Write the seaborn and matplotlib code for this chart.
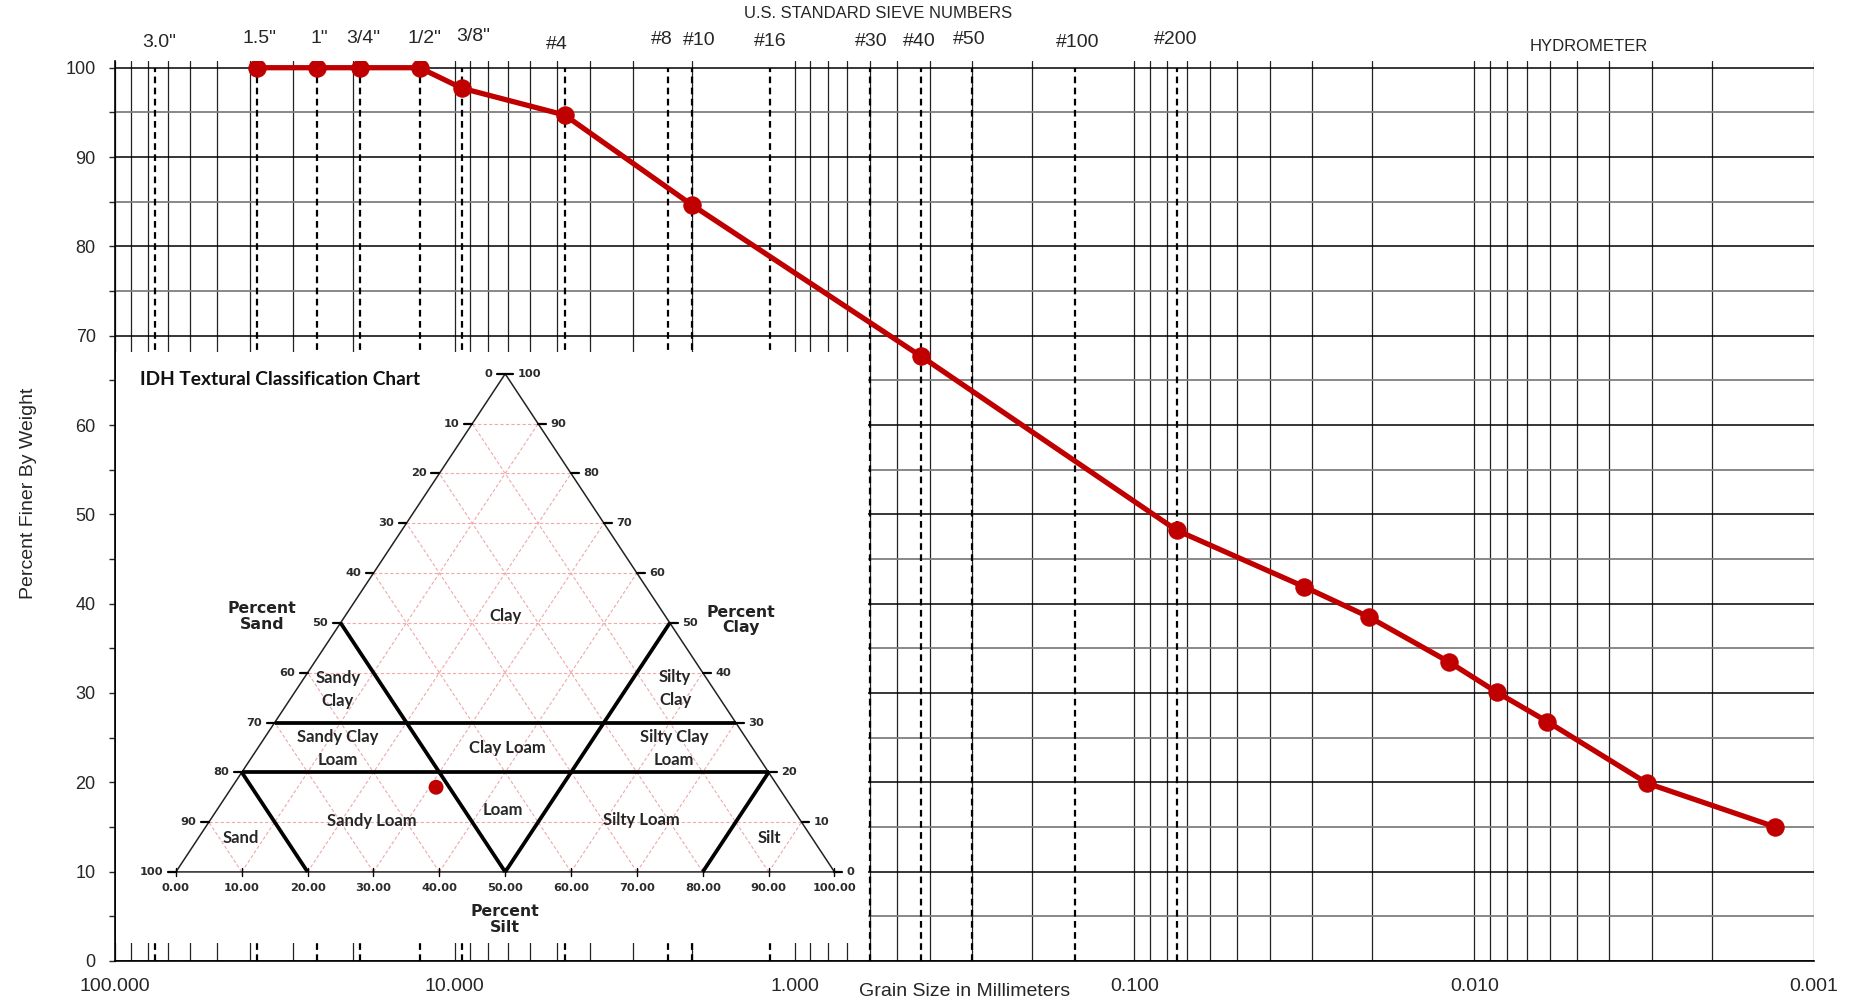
import numpy as np
import pandas as pd
import matplotlib
matplotlib.use("Agg")
import matplotlib.pyplot as plt
import seaborn as sns
from matplotlib.ticker import LogLocator, MultipleLocator, NullFormatter

# grain size distribution (sieve + hydrometer)
grain_mm = [38.1, 25.4, 19.05, 12.7, 9.525, 4.75, 2.0, 0.425, 0.075,
            0.0317, 0.0204, 0.0119, 0.0086, 0.0061, 0.0031, 0.0013]
pct_finer = [100, 100, 100, 100, 97.7, 94.7, 84.6, 67.7, 48.2,
             41.9, 38.5, 33.5, 30.1, 26.8, 19.9, 15.0]

# sieve openings
sieve_names = ['3.0"', '1.5"', '1"', '3/4"', '1/2"', '3/8"', '#4', '#8', '#10',
               '#16', '#30', '#40', '#50', '#100', '#200']
sieve_mm = [76.2, 38.1, 25.4, 19.05, 12.7, 9.525, 4.75, 2.36, 2.0,
            1.18, 0.6, 0.425, 0.3, 0.15, 0.075]
# where the sieve names sit (x in mm, y in percent)
sieve_label_x = [74.4, 37.65, 25.0, 18.6, 12.25, 8.82, 4.995, 2.466, 1.909,
                 1.18, 0.597, 0.43, 0.307, 0.1467, 0.0755]
sieve_label_y = [102.8, 103.3, 103.3, 103.3, 103.3, 103.5, 102.6, 103.2, 103.0,
                 102.9, 102.9, 102.9, 103.2, 102.8, 103.2]

xtick_vals = [100, 10, 1, 0.1, 0.01, 0.001]
xtick_labels = ["100.000", "10.000", "1.000", "0.100", "0.010", "0.001"]

# ternary textural chart
tern_ticks = list(range(0, 101, 10))
sample_sand, sample_silt, sample_clay = 52, 31, 17
# class boundaries as (silt, clay) end points
boundaries = [((0, 30), (70, 30)), ((0, 20), (80, 20)),
              ((0, 50), (50, 0)), ((50, 50), (50, 0)),
              ((0, 20), (20, 0)), ((80, 20), (80, 0))]
class_names = ["Clay", "Sandy\nClay", "Silty\nClay", "Sandy Clay\nLoam", "Clay Loam",
               "Silty Clay\nLoam", "Sandy Loam", "Loam", "Silty Loam", "Sand", "Silt"]
class_pos = [(50.1, 51.3), (24.6, 36.6), (75.8, 36.8), (24.6, 24.7), (50.3, 24.9),
             (75.6, 24.7), (29.8, 10.2), (49.7, 12.4), (70.7, 10.5), (9.9, 6.9), (90.1, 6.9)]


def proj(silt, clay):
    return silt + clay / 2.0, clay


sns.set_style("white")
plt.rcParams['font.family'] = ['Liberation Sans', 'DejaVu Sans']

fig = plt.figure(figsize=(18.56, 10.01), dpi=100)
ax = fig.add_axes([0.062, 0.04, 0.9154, 0.8986])

ax.set_xscale('log')
ax.set_xlim(100, 0.001)
ax.set_ylim(0, 100.7)

ax.xaxis.set_major_locator(LogLocator(base=10, numticks=20))
ax.xaxis.set_minor_locator(LogLocator(base=10, subs=np.arange(2, 10), numticks=100))
ax.xaxis.set_minor_formatter(NullFormatter())
ax.set_xticks(xtick_vals)
ax.set_xticklabels(xtick_labels)
ax.yaxis.set_major_locator(MultipleLocator(10))
ax.yaxis.set_minor_locator(MultipleLocator(5))

ax.set_axisbelow(True)
ax.grid(which='both', axis='x', color='#222222', lw=0.9)
ax.grid(which='major', axis='y', color='black', lw=1.1)
ax.grid(which='minor', axis='y', color='#7f7f7f', lw=1.3)

ax.vlines(sieve_mm, 0, 100, colors='black', linestyles=(0, (3, 2)), lw=1.6, zorder=2)

df = pd.DataFrame({"size": grain_mm, "finer": pct_finer})
sns.lineplot(data=df, x="size", y="finer", ax=ax, color='#C00000', lw=3.8,
             marker='o', markersize=12.5, markeredgecolor='#C00000', sort=False, zorder=5)

for name, x, y in zip(sieve_names, sieve_label_x, sieve_label_y):
    ax.text(x, y, name, ha='center', va='center', fontsize=14, clip_on=False)
ax.text(0.57, 106.1, "U.S. STANDARD SIEVE NUMBERS", ha='center', va='center', fontsize=12, clip_on=False)
ax.text(0.0046, 102.4, "HYDROMETER", ha='center', va='center', fontsize=12, clip_on=False)

for s in ['top', 'right']:
    ax.spines[s].set_visible(False)
for s in ['left', 'bottom']:
    ax.spines[s].set_color('black')
    ax.spines[s].set_linewidth(1.2)

ax.tick_params(axis='x', which='both', length=0, pad=12, labelsize=14)
ax.tick_params(axis='y', which='both', direction='out', length=4, width=1, labelsize=13, pad=10, left=True)
ax.set_xlabel("Grain Size in Millimeters", fontsize=14)
ax.xaxis.set_label_coords(0.5, -0.025)
ax.set_ylabel("Percent Finer By Weight", fontsize=14)
ax.yaxis.set_label_coords(-0.046, 0.52)

# ---- inset ternary chart ----
ax_t = fig.add_axes([0.0625, 0.058, 0.4052, 0.5904])
ax_t.set_xlim(-9.1, 105.1)
ax_t.set_ylim(-14.26, 104.4)
ax_t.set_xticks([])
ax_t.set_yticks([])
for s in ax_t.spines.values():
    s.set_visible(False)
ax_t.set_facecolor('white')

lato = ['Lato', 'DejaVu Sans']
verd = ['DejaVu Sans']
pink = '#f0a8a8'
for k in range(10, 100, 10):
    pts = [proj(0, k), proj(100 - k, k)]
    ax_t.plot(*zip(*pts), color=pink, lw=0.8, ls=(0, (3, 2)))
    pts = [proj(k, 0), proj(k, 100 - k)]
    ax_t.plot(*zip(*pts), color=pink, lw=0.8, ls=(0, (3, 2)))
    pts = [proj(100 - k, 0), proj(0, 100 - k)]
    ax_t.plot(*zip(*pts), color=pink, lw=0.8, ls=(0, (3, 2)))

tri = [proj(0, 0), proj(100, 0), proj(0, 100), proj(0, 0)]
ax_t.plot(*zip(*tri), color='#222222', lw=1.1)

for a, b in boundaries:
    ax_t.plot(*zip(proj(*a), proj(*b)), color='black', lw=2.7, solid_capstyle='butt')

for c in tern_ticks:
    ul, vl = proj(0, c)
    ax_t.plot([ul - 1.2, ul], [vl, vl], color='black', lw=1.6)
    ax_t.text(ul - 1.9, vl, str(100 - c), ha='right', va='center', fontsize=8.2,
              fontweight='bold', color='#2b2b2b', family=verd)
    ur, vr = proj(100 - c, c)
    ax_t.plot([ur, ur + 1.2], [vr, vr], color='black', lw=1.6)
    ax_t.text(ur + 1.9, vr, str(c), ha='left', va='center', fontsize=8.2,
              fontweight='bold', color='#2b2b2b', family=verd)
    ub, vb = proj(c, 0)
    ax_t.plot([ub, ub], [vb + 0.8, vb - 0.8], color='black', lw=1.0)
    ax_t.text(ub, -3.3, f"{c:.2f}", ha='center', va='center', fontsize=8.2,
              fontweight='bold', color='#2b2b2b', family=verd)

for name, (u, v) in zip(class_names, class_pos):
    ax_t.text(u, v, name, ha='center', va='center', fontsize=12, fontweight='bold',
              color='#262626', family=lato, linespacing=1.55)

for txt, (u, v) in zip(["Percent\nSand", "Percent\nClay", "Percent\nSilt"],
                       [(13.1, 51.3), (85.8, 50.6), (49.9, -9.5)]):
    ax_t.text(u, v, txt, ha='center', va='center', fontsize=11.3, fontweight='bold',
              color='#222222', family=verd, linespacing=1.05)
ax_t.text(-5.5, 98.8, "IDH Textural Classification Chart", ha='left', va='center',
          fontsize=13.8, fontweight='bold', color='#111111', family=lato)

su, sv = proj(sample_silt, sample_clay)
sns.scatterplot(x=[su], y=[sv], ax=ax_t, color='#C00000', s=115, edgecolor='none', zorder=6)

fig.savefig("out.png", dpi=100)
